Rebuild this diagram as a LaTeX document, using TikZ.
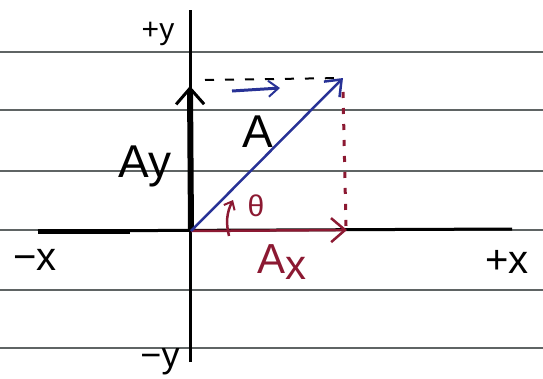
\documentclass[tikz,border=0pt]{standalone}
\usepackage{fontspec}
\setmainfont{Liberation Sans}
\usetikzlibrary{arrows.meta}
\definecolor{vecblue}{RGB}{40, 50, 150}
\definecolor{compred}{RGB}{140, 25, 50}
\definecolor{ruleline}{RGB}{95, 100, 100}

\begin{document}
\begin{tikzpicture}[x=1pt, y=-1pt,
    paperline/.style={line width=1.6pt, ruleline},
    axis/.style={line width=3pt, black},
    lbl/.style={inner sep=0pt, font=\fontsize{#1}{#1}\selectfont}]
    \useasboundingbox (0,0) rectangle (543,378);

    % Ruled paper
    \foreach \ly [count=\i] in {52,110,171,230,290,348} {
      \coordinate (pl\i) at (0,\ly);
      \coordinate (pr\i) at (543,\ly);
      \draw[paperline] (pl\i) -- (pr\i);
    }

    % Axes
    \coordinate (origin) at (191,231);
    \coordinate (ytop) at (190,10);
    \coordinate (ybot) at (190,362);
    \coordinate (xleft) at (38,231);
    \coordinate (xright) at (512,229);
    \draw[axis] (ybot) -- (ytop);
    \draw[axis] (xleft) -- (xright);
    \draw[line width=5pt] (xleft) -- (130,231);

    % Axis labels
    \node[lbl=30] (py) at (158,34) {+y};
    \node[lbl=36] (my) at (160,362) {−y};
    \node[lbl=40] (mx) at (35,260) {−x};
    \node[lbl=40] (px) at (507,262) {+x};

    % Components
    \coordinate (ayhead) at (190,86);
    \coordinate (axhead) at (347,230);
    \draw[-{Straight Barb[length=16pt, width=28pt, line width=3pt]}, line width=6pt] (origin) -- (ayhead);
    \draw[-{Straight Barb[length=14pt, width=24pt, line width=2.5pt]}, line width=2.5pt, compred] (origin) -- (axhead);
    \node[lbl=46] (lay) at (145,166) {Ay};
    \node[lbl=42, compred] (lax) at (282,262) {A\raisebox{-6pt}{x}};

    % Projection lines
    \coordinate (atip) at (343,78);
    \coordinate (dsh) at (205,80);
    \coordinate (dtop) at (343,92);
    \coordinate (dbot) at (346,226);
    \draw[line width=2pt, dash pattern=on 9pt off 11pt] (dsh) -- (atip);
    \draw[line width=3pt, compred, dash pattern=on 6pt off 10pt] (dtop) -- (dbot);
    \coordinate (bl1) at (232,91);
    \coordinate (bl2) at (280,88);
    \draw[-{Straight Barb[length=10pt, width=16pt, line width=2pt]}, line width=3pt, vecblue] (bl1) -- (bl2);

    % Vector A
    \draw[-{Straight Barb[length=14pt, width=22pt, line width=2.5pt]}, line width=2.5pt, vecblue] (origin) -- (atip);
    \node[lbl=46] (la) at (258,132) {A};

    % Angle
    \coordinate (thlow) at (229,236);
    \coordinate (thhigh) at (233,200);
    \draw[-{Straight Barb[length=7pt, width=12pt, line width=2pt]}, line width=2.5pt, compred] (thlow) to[bend left=20] (thhigh);
    \node[lbl=30, compred] (th) at (256,206) {θ};
\end{tikzpicture}
\end{document}
